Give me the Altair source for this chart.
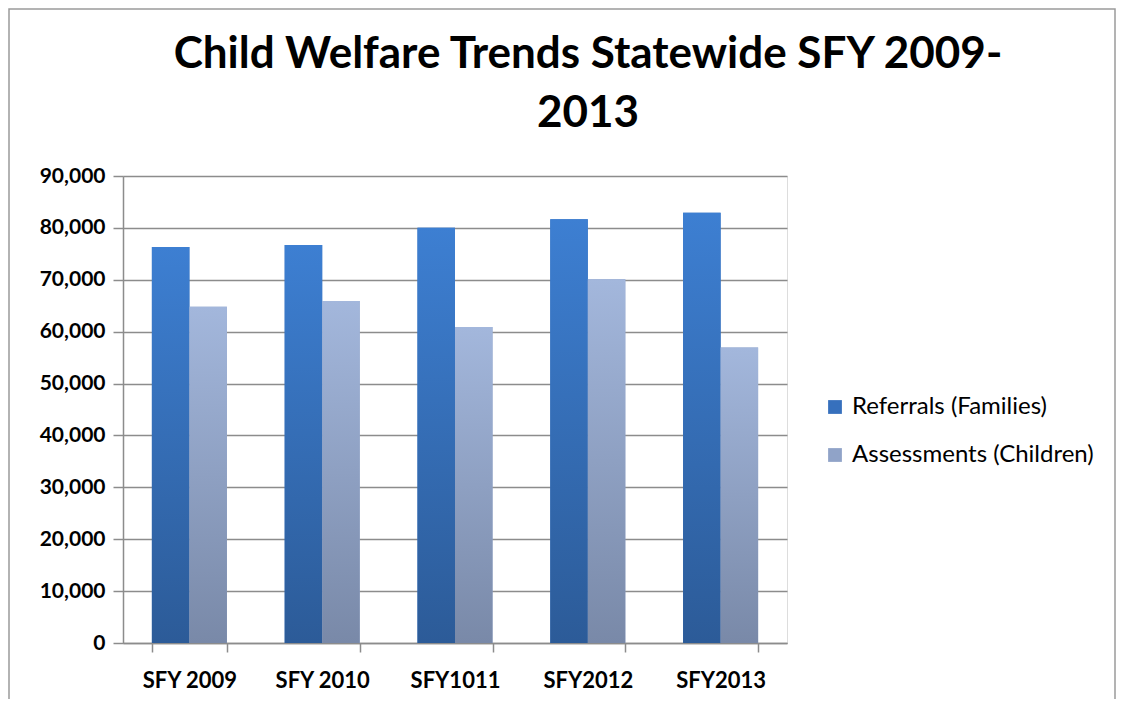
import altair as alt
import pandas as pd

categories = ["SFY 2009", "SFY 2010", "SFY1011", "SFY2012", "SFY2013"]
series = ["Referrals (Families)", "Assessments (Children)"]
referrals = [76300, 76700, 80050, 81650, 82900]
assessments = [64800, 65900, 60900, 70100, 56950]
y_ticks = [0, 10000, 20000, 30000, 40000, 50000, 60000, 70000, 80000, 90000]
title_lines = ["Child Welfare Trends Statewide SFY 2009-", "2013"]

rows = []
for c, r, a in zip(categories, referrals, assessments):
    rows.append({"cat": c, "series": series[0], "value": r})
    rows.append({"cat": c, "series": series[1], "value": a})
df = pd.DataFrame(rows)

FONT = "Lato, sans-serif"
W, H = 664, 467
PAD_L, PAD_T = 115, 168
SVG_W, SVG_H = 1124 - 16, 707 - 16

grad_ref = alt.Gradient(gradient="linear", x1=0, x2=0, y1=0, y2=1,
                        stops=[alt.GradientStop(color="#3d7fd2", offset=0),
                               alt.GradientStop(color="#2c5b98", offset=1)])
grad_ass = alt.Gradient(gradient="linear", x1=0, x2=0, y1=0, y2=1,
                        stops=[alt.GradientStop(color="#a3b7dc", offset=0),
                               alt.GradientStop(color="#7989a8", offset=1)])

x_enc = alt.X("cat:N", sort=categories, title=None,
              scale=alt.Scale(paddingInner=0.435, paddingOuter=0.2175),
              axis=alt.Axis(labelAngle=0, labelFont=FONT, labelFontSize=22, labelFontWeight="bold",
                            labelColor="#000000", labelPadding=18, tickBand="extent", tickSize=9,
                            tickColor="#8c8c8c", domainColor="#8c8c8c", domainWidth=1.5, tickWidth=1.5))
y_enc = alt.Y("value:Q", title=None,
              scale=alt.Scale(domain=[0, 90000], nice=False),
              axis=alt.Axis(values=y_ticks, format=",d", labelFont=FONT, labelFontSize=21,
                            labelFontWeight="bold", labelColor="#000000", labelPadding=8,
                            tickSize=10, tickColor="#8c8c8c", domainColor="#8c8c8c",
                            domainWidth=1.5, tickWidth=1.5, gridColor="#8c8c8c", gridWidth=1.5))
xo = alt.XOffset("series:N", sort=series, scale=alt.Scale(domain=series, paddingInner=0, paddingOuter=0))

base = alt.Chart(df)

legend_layer = base.mark_bar().encode(
    x=x_enc, y=y_enc, xOffset=xo,
    color=alt.Color("series:N", sort=series,
                    scale=alt.Scale(domain=series, range=["#3670bd", "#90a3c8"]),
                    legend=alt.Legend(title=None, orient="none", legendX=700, legendY=219,
                                      symbolType="square", symbolSize=190, symbolStrokeWidth=0,
                                      labelFont=FONT, labelFontSize=24, labelColor="#000000",
                                      labelLimit=400, rowPadding=24, labelOffset=5))
)
ref_layer = base.transform_filter(alt.datum.series == series[0]).mark_bar(color=grad_ref).encode(
    x=x_enc, y=y_enc, xOffset=xo)
ass_layer = base.transform_filter(alt.datum.series == series[1]).mark_bar(color=grad_ass).encode(
    x=x_enc, y=y_enc, xOffset=xo)

one = pd.DataFrame({"a": [0]})
border = alt.Chart(one).mark_rect(fill="transparent", stroke="#9a9a9a", strokeWidth=1.5).encode(
    x=alt.value(-PAD_L + 1), x2=alt.value(SVG_W - PAD_L - 1),
    y=alt.value(-PAD_T + 1), y2=alt.value(SVG_H - PAD_T + 30))

title1 = alt.Chart(one).mark_text(text=title_lines[0], font=FONT, fontSize=44, fontWeight="bold",
                                  color="#000000", align="center", baseline="alphabetic").encode(
    x=alt.value(465), y=alt.value(-108))
title2 = alt.Chart(one).mark_text(text=title_lines[1], font=FONT, fontSize=44, fontWeight="bold",
                                  color="#000000", align="center", baseline="alphabetic").encode(
    x=alt.value(465), y=alt.value(-49))

chart = alt.layer(border, legend_layer, ref_layer, ass_layer, title1, title2).properties(
    width=W, height=H,
    padding={"left": PAD_L, "top": PAD_T, "right": SVG_W - PAD_L - W, "bottom": SVG_H - PAD_T - H},
    autosize=alt.AutoSizeParams(type="none"),
).configure_view(stroke=None).configure(background="white")

chart.save("out.html", embed_options={"renderer": "svg", "actions": False})
